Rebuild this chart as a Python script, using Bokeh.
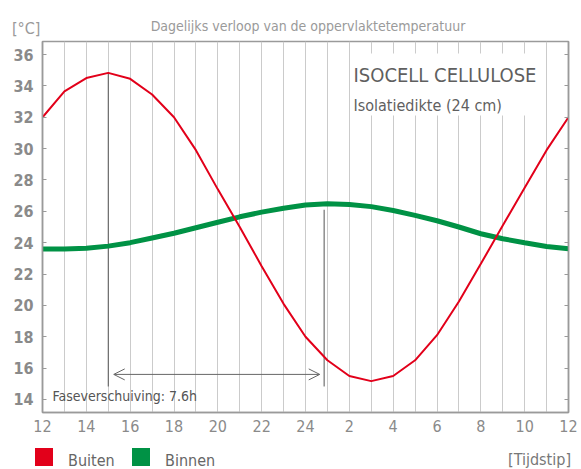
from bokeh.plotting import figure
from bokeh.layouts import column
from bokeh.models import (Range1d, FixedTicker, LinearAxis, Label, Arrow, OpenHead,
                          BoxAnnotation, Div)
from bokeh.embed import file_html
from bokeh.resources import INLINE

# ---------------- data ----------------
hours = list(range(25))  # hour index, 0 = 12:00 ... 24 = 12:00 next day
x_tick_pos = [0, 2, 4, 6, 8, 10, 12, 14, 16, 18, 20, 22, 24]
x_tick_labels = ["12", "14", "16", "18", "20", "22", "24", "2", "4", "6", "8", "10", "12"]
y_ticks = [14, 16, 18, 20, 22, 24, 26, 28, 30, 32, 34, 36]

buiten = [32.0, 33.65, 34.5, 34.83, 34.45, 33.45, 32.0, 29.9, 27.4, 25.0, 22.5, 20.1,
          18.0, 16.5, 15.5, 15.17, 15.5, 16.5, 18.1, 20.25, 22.65, 25.1, 27.5, 29.9, 32.0]
binnen = [23.6, 23.6, 23.64, 23.78, 24.0, 24.3, 24.6, 24.95, 25.3, 25.65, 25.95, 26.2,
          26.4, 26.48, 26.43, 26.3, 26.05, 25.74, 25.4, 25.0, 24.57, 24.25, 24.0, 23.76, 23.62]
series_names = ["Buiten", "Binnen"]

phase_x = [3.0, 12.85]
phase_top = [34.83, 26.1]
phase_bottom = [14.83, 14.83]
arrow_y = 15.6
arrow_x = [3.25, 12.65]

RED = "#e2001a"
GREEN = "#009245"
FONT = "DejaVu Sans Condensed"
W = 581
CSS_FONT = "font-family:'DejaVu Sans Condensed',sans-serif;line-height:1em;white-space:nowrap;position:absolute;"


def lab(fig, text, x, y, size, color, align="left"):
    l = Label(text=text, x=x, y=y, x_units="screen", y_units="screen",
              text_font=FONT, text_font_size=size, text_color=color,
              text_align=align, text_baseline="alphabetic")
    fig.add_layout(l)
    return l


# ---------------- header ----------------
header_html = (
    '<div style="position:relative;width:581px;height:40px;margin:0;padding:0;">'
    f'<span style="{CSS_FONT}left:12px;top:21px;font-size:16px;color:#9a9a9a;">[°C]</span>'
    f'<span style="{CSS_FONT}left:308px;top:19px;font-size:14px;color:#9a9a9a;transform:translateX(-50%);">'
    'Dagelijks verloop van de oppervlaktetemperatuur</span>'
    '</div>'
)
header = Div(text=header_html, width=W, height=40, margin=(0, 0, 0, 0))

# ---------------- main chart ----------------
p = figure(width=W, height=405, output_backend="svg", toolbar_location=None,
           x_range=Range1d(0, 24), y_range=Range1d(13.17, 36.83), title_location=None,
           min_border_left=42, min_border_right=13, min_border_top=1, min_border_bottom=33,
           x_axis_location="below", y_axis_location="left")
p.background_fill_color = "white"
p.border_fill_color = "white"
p.outline_line_color = "#9a9a9a"
p.outline_line_width = 1.5

p.ygrid.visible = False
p.xgrid.ticker = FixedTicker(ticks=hours)
p.xgrid.grid_line_color = "#cbcbcb"
p.xgrid.grid_line_width = 1

xa = p.xaxis[0]
xa.ticker = FixedTicker(ticks=x_tick_pos)
xa.major_label_overrides = {t: l for t, l in zip(x_tick_pos, x_tick_labels)}
xa.major_tick_in = 0
xa.major_tick_out = 0
xa.minor_tick_line_color = None
xa.axis_line_color = "#9a9a9a"
xa.axis_line_width = 1.5
xa.major_label_standoff = 7
xa.major_label_text_font = FONT
xa.major_label_text_font_size = "16px"
xa.major_label_text_color = "#8a8a8a"

ya = p.yaxis[0]
ya.ticker = FixedTicker(ticks=y_ticks)
ya.major_tick_in = 4
ya.major_tick_out = 0
ya.minor_tick_line_color = None
ya.major_tick_line_color = "#9a9a9a"
ya.axis_line_color = "#9a9a9a"
ya.axis_line_width = 1.5
ya.major_label_standoff = 9
ya.major_label_text_font = FONT
ya.major_label_text_font_size = "16px"
ya.major_label_text_font_style = "bold"
ya.major_label_text_color = "#8a8a8a"

ra = LinearAxis(ticker=FixedTicker(ticks=y_ticks))
ra.major_label_overrides = {t: "" for t in y_ticks}
ra.major_tick_in = 4
ra.major_tick_out = 0
ra.major_label_standoff = 0
ra.minor_tick_line_color = None
ra.major_tick_line_color = "#9a9a9a"
ra.axis_line_color = "#9a9a9a"
ra.axis_line_width = 1.5
p.add_layout(ra, "right")

box = BoxAnnotation(left=14.05, right=22.77, bottom=32.11, top=36.07,
                    fill_color="white", fill_alpha=1.0, line_color=None, level="underlay")
p.add_layout(box)

p.segment(x0=phase_x, y0=phase_bottom, x1=phase_x, y1=phase_top, line_color="#555555", line_width=1)
p.line(hours, binnen, line_color=GREEN, line_width=5)
p.line(hours, buiten, line_color=RED, line_width=2)

arr = Arrow(start=OpenHead(size=11, line_color="#666666", line_width=1),
            end=OpenHead(size=11, line_color="#666666", line_width=1),
            x_start=arrow_x[0], y_start=arrow_y, x_end=arrow_x[1], y_end=arrow_y,
            line_color="#666666", line_width=1)
p.add_layout(arr)

lab(p, "ISOCELL CELLULOSE", 311, 338, "20px", "#5f5f5f")
lab(p, "Isolatiedikte (24 cm)", 311, 307, "16px", "#5f5f5f")
lab(p, "Faseverschuiving: 7.6h", 10, 17, "14px", "#555555")

# ---------------- footer (legend) ----------------
sq = "position:absolute;top:3px;width:18px;height:18px;"
footer_html = (
    '<div style="position:relative;width:581px;height:24px;margin:0;padding:0;">'
    f'<span style="{sq}left:35px;background:{RED};"></span>'
    f'<span style="{CSS_FONT}left:68px;top:8px;font-size:16px;color:#666666;">{series_names[0]}</span>'
    f'<span style="{sq}left:132px;background:{GREEN};"></span>'
    f'<span style="{CSS_FONT}left:165px;top:8px;font-size:16px;color:#666666;">{series_names[1]}</span>'
    f'<span style="{CSS_FONT}right:10px;top:7px;font-size:16px;color:#777777;">[Tijdstip]</span>'
    '</div>'
)
footer = Div(text=footer_html, width=W, height=24, margin=(0, 0, 0, 0))

layout = column(header, p, footer, spacing=0)
open("out.html", "w").write(file_html(layout, INLINE))
